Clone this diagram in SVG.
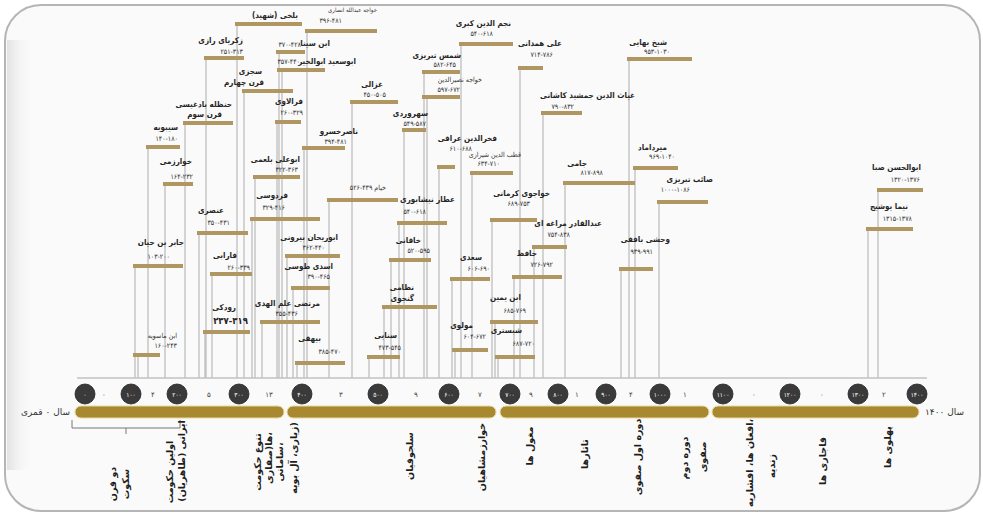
<svg xmlns="http://www.w3.org/2000/svg" width="983" height="515" viewBox="0 0 983 515">
<style>
.nm{font-family:"DejaVu Sans Condensed","DejaVu Sans",sans-serif;font-size:8px;font-weight:bold;fill:#262626;text-anchor:end}
.dt{font-family:"DejaVu Sans Condensed","DejaVu Sans",sans-serif;font-size:7px;fill:#333;text-anchor:end}
.bar{fill:#b09660}
.ln{stroke:#c2c2c2;stroke-width:1.4;fill:none}
.cc{fill:#3a3a3a;stroke:#222;stroke-width:0.8}
.cn{font-family:"DejaVu Sans Condensed","DejaVu Sans",sans-serif;font-size:6.5px;fill:#fff;text-anchor:middle}
.gn{font-family:"DejaVu Sans",sans-serif;font-size:7px;fill:#444;text-anchor:middle}
.era{fill:#a8892f;stroke:#e8d7a0;stroke-width:1}
.vl{font-family:"DejaVu Sans",sans-serif;font-size:9.5px;font-weight:bold;fill:#1e1e1e;text-anchor:middle}
.ed{font-family:"DejaVu Sans",sans-serif;font-size:9px;fill:#333}
</style>
<defs>
<linearGradient id="lsh" x1="0" y1="0" x2="1" y2="0">
<stop offset="0" stop-color="#e2e2e2"/><stop offset="1" stop-color="#fafafa" stop-opacity="0"/>
</linearGradient>
</defs>
<rect width="983" height="515" fill="#ffffff"/>
<g id="card">
<rect x="5" y="5" width="975" height="506" rx="36" fill="#fafafa" stroke="#b5b5b5" stroke-width="2"/>
<rect x="7" y="40" width="26" height="430" fill="url(#lsh)"/>
</g>

<g id="connectors">
<line class="ln" x1="77" y1="378" x2="927" y2="378"/>
<path class="ln" d="M148 147V378M165 184V378M185 123V378M206 58V378M237 24V378M244 91V378M277 122V378M255 177V378M279 52V378M282 70V378M307 31V378M352 102V378M304 148V378M404 130V378M424 72V378M427 97V378M461 44V378M439 167V378M472 173V378M520 68V378M543 113V378M629 59V378M565 183V378M635 168V378M659 202V378M621 269V378M534 247V378M492 220V378M514 277V378M495 322V378M498 357V378M452 279V378M455 350V378M399 223V378M329 200V378M391 260V378M384 307V378M369 357V378M297 363V378M287 256V378M293 288V378M252 219V378M199 233V378M135 266V378M212 274V378M205 332V378M138 355V378M262 322V378M878 190V378M868 229V378"/>
</g>

<g id="p-sibuyeh"><text class="nm" x="178" y="130">سیبویه</text><text class="dt" x="178" y="141">۱۴۰-۱۸۰</text><rect class="bar" x="146" y="145" width="34" height="4"/></g>
<g id="p-kharazmi"><text class="nm" x="192" y="164">خوارزمی</text><text class="dt" x="193" y="179">۱۶۴-۲۳۲</text><rect class="bar" x="163" y="182" width="30" height="4"/></g>
<g id="p-hanzaleh"><text class="nm" x="232" y="107">حنظله بادغیسی</text><text class="nm" x="222" y="117">قرن سوم</text><rect class="bar" x="183" y="121" width="50" height="4"/></g>
<g id="p-razi"><text class="nm" x="243" y="43">زکریای رازی</text><text class="dt" x="243" y="54">۲۵۱-۳۱۳</text><rect class="bar" x="204" y="56" width="40" height="4"/></g>
<g id="p-shahid"><text class="nm" x="298" y="18">بلخی (شهید)</text><rect class="bar" x="235" y="22" width="67" height="4"/></g>
<g id="p-sejzi"><text class="nm" x="262" y="74">سجزی</text><text class="nm" x="264" y="85">قرن چهارم</text><rect class="bar" x="242" y="89" width="51" height="4"/></g>
<g id="p-faralavi"><text class="nm" x="303" y="104">فرالاوی</text><text class="dt" x="303" y="115">۲۶۰-۳۲۹</text><rect class="bar" x="275" y="120" width="26" height="4"/></g>
<g id="p-balami"><text class="nm" x="300" y="162">ابوعلی بلعمی</text><text class="dt" x="298" y="172">۳۲۲-۳۶۳</text><rect class="bar" x="253" y="175" width="47" height="4"/></g>
<g id="p-ibnsina"><text class="nm" x="330" y="46">ابن سینا</text><text class="dt" x="301" y="47">۳۷۰-۴۲۸</text><rect class="bar" x="276" y="50" width="29" height="4"/></g>
<g id="p-abusaeed"><text class="nm" x="356" y="64">ابوسعید ابوالخیر</text><text class="dt" x="300" y="64">۳۵۷-۴۴۰</text><rect class="bar" x="277" y="68" width="48" height="4"/></g>
<g id="p-ansari"><text class="dt" x="377" y="12" style="font-size:6px">خواجه عبدالله انصاری</text><text class="dt" x="342" y="23">۳۹۶-۴۸۱</text><rect class="bar" x="305" y="29" width="72" height="4"/></g>
<g id="p-ghazali"><text class="nm" x="383" y="87">غزالی</text><text class="dt" x="386" y="97">۴۵۰-۵۰۵</text><rect class="bar" x="350" y="100" width="48" height="4"/></g>
<g id="p-naser"><text class="nm" x="358" y="134">ناصرخسرو</text><text class="dt" x="347" y="144">۳۹۴-۴۸۱</text><rect class="bar" x="302" y="146" width="43" height="4"/></g>
<g id="p-sohrevardi"><text class="nm" x="428" y="116">سهروردی</text><text class="dt" x="426" y="126">۵۴۹-۵۸۷</text><rect class="bar" x="402" y="128" width="24" height="4"/></g>
<g id="p-shams"><text class="nm" x="461" y="58">شمس تبریزی</text><text class="dt" x="456" y="67">۵۸۲-۶۴۵</text><rect class="bar" x="422" y="70" width="38" height="4"/></g>
<g id="p-nasir"><text class="dt" x="482" y="82">خواجه نصیرالدین</text><text class="dt" x="460" y="92">۵۹۷-۶۷۲</text><rect class="bar" x="422" y="95" width="38" height="4"/></g>
<g id="p-najm"><text class="nm" x="511" y="26">نجم الدین کبری</text><text class="dt" x="493" y="36">۵۴۰-۶۱۸</text><rect class="bar" x="459" y="42" width="54" height="4"/></g>
<g id="p-fakhr"><text class="nm" x="497" y="141">فخرالدین عراقی</text><text class="dt" x="472" y="151">۶۱۰-۶۸۸</text><rect class="bar" x="437" y="165" width="18" height="4"/></g>
<g id="p-qotb"><text class="dt" x="521" y="157">قطب الدین شیرازی</text><text class="dt" x="500" y="166">۶۳۴-۷۱۰</text><rect class="bar" x="470" y="171" width="43" height="4"/></g>
<g id="p-hamedani"><text class="nm" x="562" y="46">علی همدانی</text><text class="dt" x="553" y="57">۷۱۴-۷۸۶</text><rect class="bar" x="518" y="66" width="25" height="4"/></g>
<g id="p-ghiyas"><text class="nm" x="635" y="98">غیاث الدین جمشید کاشانی</text><text class="dt" x="574" y="109">۷۹۰-۸۳۲</text><rect class="bar" x="541" y="111" width="41" height="4"/></g>
<g id="p-bahaei"><text class="nm" x="667" y="45">شیخ بهایی</text><text class="dt" x="670" y="54">۹۵۳-۱۰۳۰</text><rect class="bar" x="627" y="57" width="65" height="4"/></g>
<g id="p-jami"><text class="nm" x="587" y="166">جامی</text><text class="dt" x="603" y="175">۸۱۷-۸۹۸</text><rect class="bar" x="563" y="181" width="72" height="4"/></g>
<g id="p-mirdamad"><text class="nm" x="667" y="150">میرداماد</text><text class="dt" x="675" y="159">۹۶۹-۱۰۴۰</text><rect class="bar" x="633" y="166" width="45" height="4"/></g>
<g id="p-saeb"><text class="nm" x="713" y="182">صائب تبریزی</text><text class="dt" x="690" y="192">۱۰۰۰-۱۰۸۶</text><rect class="bar" x="657" y="200" width="51" height="4"/></g>
<g id="p-vahshi"><text class="nm" x="670" y="242">وحشی بافقی</text><text class="dt" x="653" y="254">۹۳۹-۹۹۱</text><rect class="bar" x="619" y="267" width="34" height="4"/></g>
<g id="p-abdolghader"><text class="nm" x="602" y="226">عبدالقادر مراغه ای</text><text class="dt" x="570" y="237">۷۵۴-۸۳۸</text><rect class="bar" x="532" y="245" width="35" height="4"/></g>
<g id="p-khajoo"><text class="nm" x="550" y="196">خواجوی کرمانی</text><text class="dt" x="530" y="206">۶۸۹-۷۵۳</text><rect class="bar" x="490" y="218" width="47" height="4"/></g>
<g id="p-hafez"><text class="nm" x="537" y="256">حافظ</text><text class="dt" x="553" y="267">۷۲۶-۷۹۲</text><rect class="bar" x="512" y="275" width="50" height="4"/></g>
<g id="p-ibnyamin"><text class="nm" x="521" y="300">ابن یمین</text><text class="dt" x="526" y="313">۶۸۵-۷۶۹</text><rect class="bar" x="490" y="320" width="48" height="4"/></g>
<g id="p-shabestari"><text class="nm" x="522" y="333">شبستری</text><text class="dt" x="535" y="346">۶۸۷-۷۲۰</text><rect class="bar" x="495" y="355" width="40" height="4"/></g>
<g id="p-saadi"><text class="nm" x="482" y="260">سعدی</text><text class="dt" x="490" y="271">۶۰۶-۶۹۰</text><rect class="bar" x="450" y="277" width="40" height="4"/></g>
<g id="p-molavi"><text class="nm" x="473" y="328">مولوی</text><text class="dt" x="486" y="339">۶۰۴-۶۷۲</text><rect class="bar" x="452" y="348" width="36" height="4"/></g>
<g id="p-attar"><text class="nm" x="455" y="202">عطار نیشابوری</text><text class="dt" x="426" y="214">۵۴۰-۶۱۸</text><rect class="bar" x="397" y="221" width="50" height="4"/></g>
<g id="p-khayyam"><text class="dt" x="386" y="190">خیام ۴۳۹-۵۲۶</text><rect class="bar" x="327" y="198" width="71" height="4"/></g>
<g id="p-khaghani"><text class="nm" x="421" y="243">خاقانی</text><text class="dt" x="430" y="253">۵۲۰-۵۹۵</text><rect class="bar" x="389" y="258" width="42" height="4"/></g>
<g id="p-nezami"><text class="nm" x="414" y="290">نظامی</text><text class="nm" x="414" y="301">گنجوی</text><rect class="bar" x="382" y="305" width="55" height="4"/></g>
<g id="p-sanaei"><text class="nm" x="397" y="338">سنایی</text><text class="dt" x="401" y="350">۴۷۳-۵۴۵</text><rect class="bar" x="367" y="355" width="33" height="4"/></g>
<g id="p-beyhaghi"><text class="nm" x="321" y="341">بیهقی</text><text class="dt" x="341" y="354">۳۸۵-۴۷۰</text><rect class="bar" x="295" y="361" width="50" height="4"/></g>
<g id="p-alamolhoda"><text class="nm" x="320" y="306">مرتضی علم الهدی</text><text class="dt" x="298" y="316">۳۵۵-۴۳۶</text><rect class="bar" x="260" y="320" width="60" height="4"/></g>
<g id="p-biruni"><text class="nm" x="338" y="240">ابوریحان بیرونی</text><text class="dt" x="325" y="250">۳۶۲-۴۴۰</text><rect class="bar" x="285" y="254" width="55" height="4"/></g>
<g id="p-asadi"><text class="nm" x="333" y="269">اسدی طوسی</text><text class="dt" x="330" y="279">۳۹۰-۴۶۵</text><rect class="bar" x="291" y="286" width="39" height="4"/></g>
<g id="p-ferdowsi"><text class="nm" x="288" y="198">فردوسی</text><text class="dt" x="285" y="210">۳۲۹-۴۱۶</text><rect class="bar" x="250" y="217" width="70" height="4"/></g>
<g id="p-onsori"><text class="nm" x="224" y="213">عنصری</text><text class="dt" x="230" y="225">۳۵۰-۴۳۱</text><rect class="bar" x="197" y="231" width="51" height="4"/></g>
<g id="p-jaber"><text class="nm" x="184" y="245">جابر بن حیان</text><text class="dt" x="170" y="259">۱۰۳-۲۰۰</text><rect class="bar" x="133" y="264" width="50" height="4"/></g>
<g id="p-farabi"><text class="nm" x="237" y="258">فارابی</text><text class="dt" x="250" y="270">۲۶۰-۳۳۹</text><rect class="bar" x="210" y="272" width="42" height="4"/></g>
<g id="p-rudaki"><text class="nm" x="236" y="310">رودکی</text><text class="nm" x="248" y="324" style="font-size:9.5px">۲۳۷-۳۱۹</text><rect class="bar" x="203" y="330" width="47" height="4"/></g>
<g id="p-masuyeh"><text class="dt" x="177" y="338">ابن ماسویه</text><text class="dt" x="177" y="348">۱۶۰-۲۴۳</text><rect class="bar" x="133" y="353" width="27" height="4"/></g>
<g id="p-saba"><text class="nm" x="921" y="170">ابوالحسن صبا</text><text class="dt" x="920" y="182">۱۳۲۰-۱۳۷۶</text><rect class="bar" x="877" y="188" width="46" height="4"/></g>
<g id="p-nima"><text class="nm" x="908" y="209">نیما یوشیج</text><text class="dt" x="912" y="221">۱۳۱۵-۱۳۷۸</text><rect class="bar" x="866" y="227" width="47" height="4"/></g>

<g id="timeline">
<rect class="era" x="75" y="406" width="209" height="12" rx="6"/>
<rect class="era" x="287" y="406" width="209" height="12" rx="6"/>
<rect class="era" x="500" y="406" width="209" height="12" rx="6"/>
<rect class="era" x="712" y="406" width="207" height="12" rx="6"/>
<text class="ed" x="70" y="415" text-anchor="end">سال ۰ قمری</text>
<text class="ed" x="925" y="415" text-anchor="start">سال ۱۴۰۰</text>
<path d="M72 420V428H180V420M126 428V434" fill="none" stroke="#777" stroke-width="1"/>
</g>

<g id="centuries">
<circle class="cc" cx="85" cy="394" r="10"/><text class="cn" x="85" y="396.5">۰</text>
<circle class="cc" cx="131" cy="394" r="10"/><text class="cn" x="131" y="396.5">۱۰۰</text>
<circle class="cc" cx="177" cy="394" r="10"/><text class="cn" x="177" y="396.5">۲۰۰</text>
<circle class="cc" cx="239" cy="394" r="10"/><text class="cn" x="239" y="396.5">۳۰۰</text>
<circle class="cc" cx="302" cy="394" r="10"/><text class="cn" x="302" y="396.5">۴۰۰</text>
<circle class="cc" cx="378" cy="394" r="10"/><text class="cn" x="378" y="396.5">۵۰۰</text>
<circle class="cc" cx="449" cy="394" r="10"/><text class="cn" x="449" y="396.5">۶۰۰</text>
<circle class="cc" cx="510" cy="394" r="10"/><text class="cn" x="510" y="396.5">۷۰۰</text>
<circle class="cc" cx="558" cy="394" r="10"/><text class="cn" x="558" y="396.5">۸۰۰</text>
<circle class="cc" cx="606" cy="394" r="10"/><text class="cn" x="606" y="396.5">۹۰۰</text>
<circle class="cc" cx="660" cy="394" r="10"/><text class="cn" x="660" y="396.5">۱۰۰۰</text>
<circle class="cc" cx="723" cy="394" r="10"/><text class="cn" x="723" y="396.5">۱۱۰۰</text>
<circle class="cc" cx="790" cy="394" r="10"/><text class="cn" x="790" y="396.5">۱۲۰۰</text>
<circle class="cc" cx="858" cy="394" r="10"/><text class="cn" x="858" y="396.5">۱۳۰۰</text>
<circle class="cc" cx="917" cy="394" r="10"/><text class="cn" x="917" y="396.5">۱۴۰۰</text>
<text class="gn" x="104" y="397">۰</text>
<text class="gn" x="153" y="397">۴</text>
<text class="gn" x="209" y="397">۵</text>
<text class="gn" x="269" y="397">۱۳</text>
<text class="gn" x="341" y="397">۳</text>
<text class="gn" x="416" y="397">۹</text>
<text class="gn" x="480" y="397">۷</text>
<text class="gn" x="531" y="397">۹</text>
<text class="gn" x="577" y="397">۱</text>
<text class="gn" x="631" y="397">۴</text>
<text class="gn" x="685" y="397">۱</text>
<text class="gn" x="754" y="397">۰</text>
<text class="gn" x="822" y="397">۰</text>
<text class="gn" x="884" y="397">۲</text>
</g>

<g id="eras">
<text class="vl" transform="translate(116,484) rotate(-90)">دو قرن</text>
<text class="vl" transform="translate(129,484) rotate(-90)">سکوت</text>
<text class="vl" transform="translate(173,472) rotate(-90)">اولین حکومت</text>
<text class="vl" transform="translate(185,461) rotate(-90)">ایرانی (طاهریان)</text>
<text class="vl" transform="translate(261,462) rotate(-90)">تنوع حکومت</text>
<text class="vl" transform="translate(272,458) rotate(-90)">ها(صفاری،</text>
<text class="vl" transform="translate(283,462) rotate(-90)">سامانی،</text>
<text class="vl" transform="translate(297,458) rotate(-90)">زیاری، آل بویه)</text>
<text class="vl" transform="translate(413,456) rotate(-90)">سلجوقیان</text>
<text class="vl" transform="translate(485,457) rotate(-90)">خوارزمشاهیان</text>
<text class="vl" transform="translate(533,446) rotate(-90)">مغول ها</text>
<text class="vl" transform="translate(588,454) rotate(-90)">تاتارها</text>
<text class="vl" transform="translate(641,457) rotate(-90)">دوره اول صفوی</text>
<text class="vl" transform="translate(688,458) rotate(-90)">دوره دوم</text>
<text class="vl" transform="translate(706,457) rotate(-90)">صفوی</text>
<text class="vl" transform="translate(753,463) rotate(-90)">افغان ها، افشاریه،</text>
<text class="vl" transform="translate(775,466) rotate(-90)">زندیه</text>
<text class="vl" transform="translate(826,461) rotate(-90)">قاجاری ها</text>
<text class="vl" transform="translate(891,447) rotate(-90)">پهلوی ها</text>
</g>
</svg>
